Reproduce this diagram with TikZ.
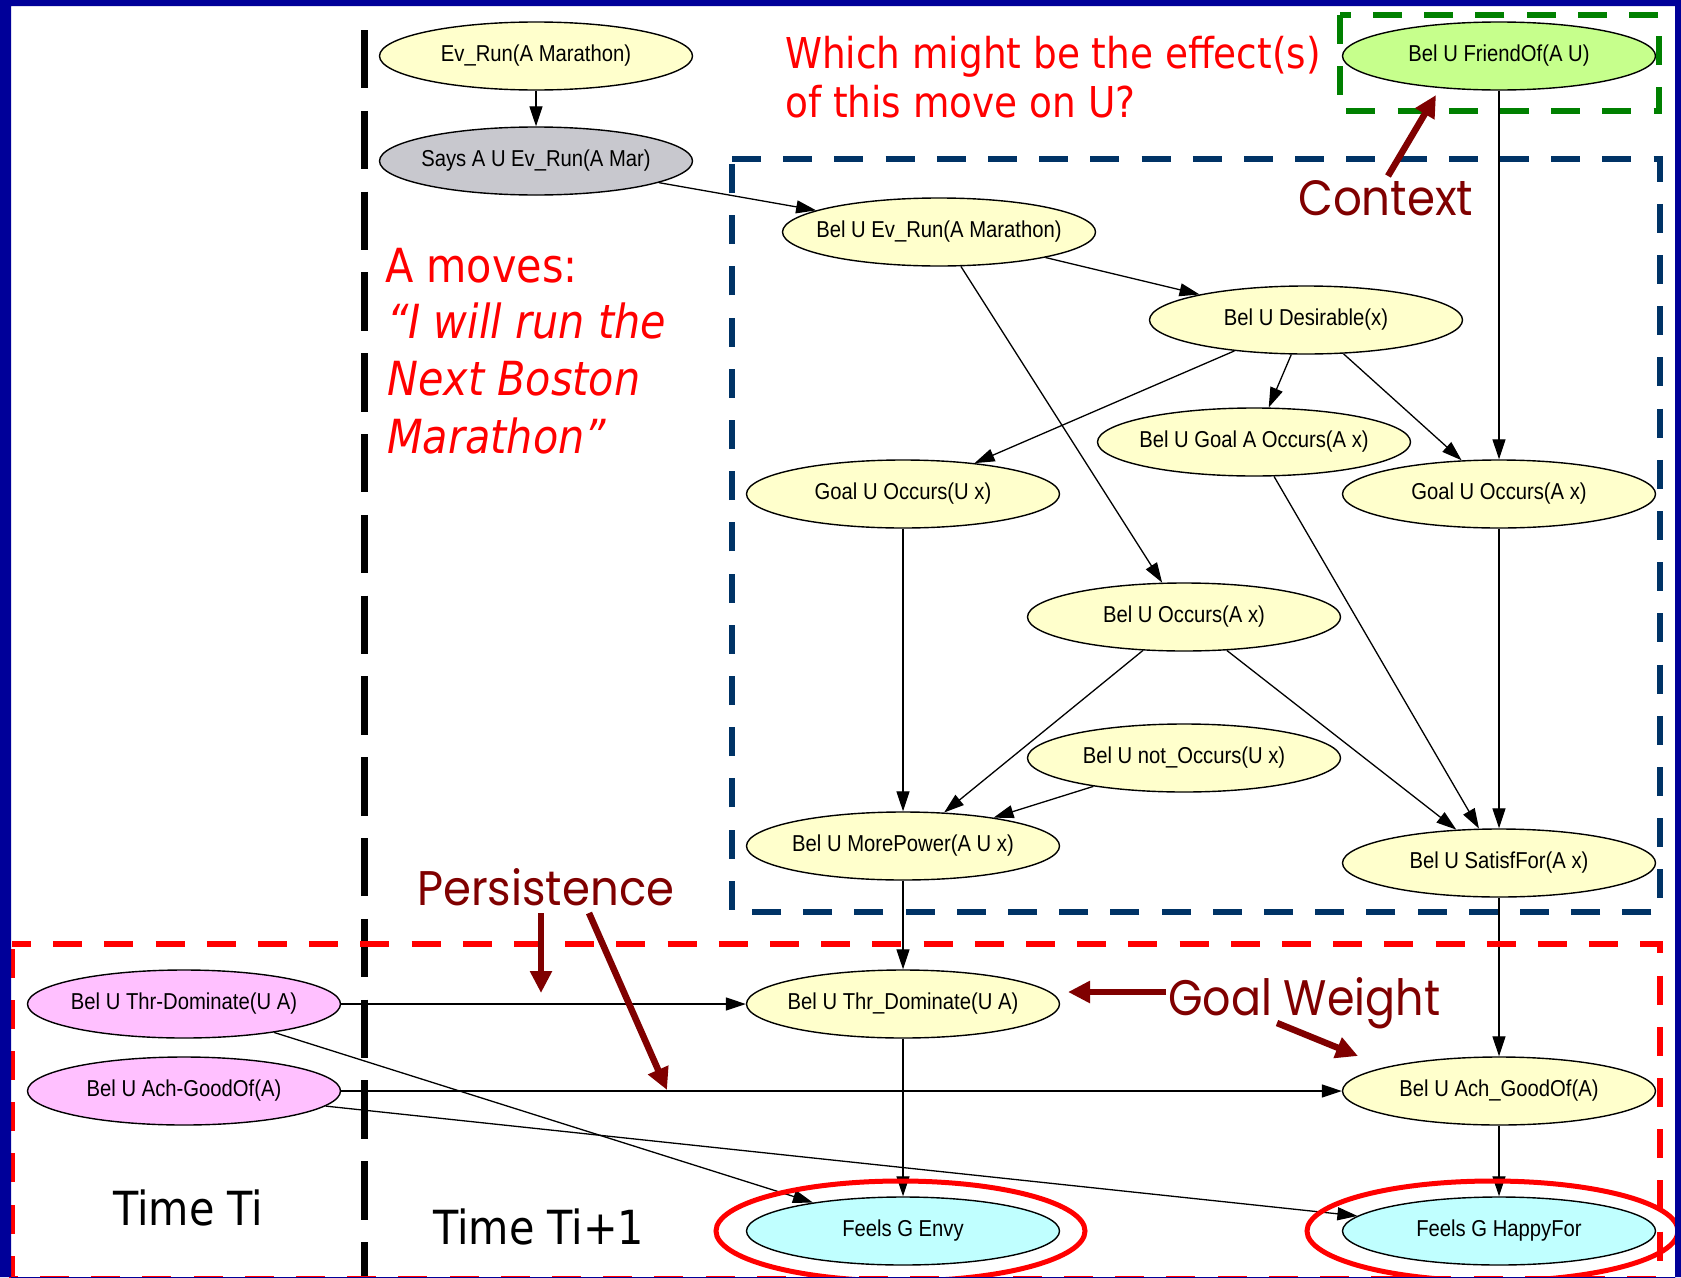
\documentclass[tikz,border=0pt]{standalone}
\usepackage{fontspec}
\usepackage{graphicx}
\setmainfont{Liberation Sans}
\newfontfamily\graphfont[FakeStretch=0.88]{Liberation Sans}
\newfontfamily\slidefont[FakeStretch=0.88]{DejaVu Sans}
\newfontfamily\handfont{Poppins}
\usetikzlibrary{shapes.geometric,arrows.meta}

\definecolor{slideblue}{RGB}{0,0,153}
\definecolor{navybox}{RGB}{0,51,102}
\definecolor{boxgreen}{RGB}{0,128,0}
\definecolor{maroonink}{RGB}{128,0,0}
\definecolor{belyellow}{RGB}{255,255,204}
\definecolor{saysgray}{RGB}{200,200,206}
\definecolor{friendgreen}{RGB}{198,255,140}
\definecolor{prevpink}{RGB}{255,192,255}
\definecolor{feelcyan}{RGB}{192,255,255}

\begin{document}
\begin{tikzpicture}[x=1pt,y=-1pt,
  gnode/.style={ellipse,draw=black,line width=1.4pt,fill=belyellow,
    minimum width=313pt,minimum height=68pt,inner sep=0pt,
    font={\graphfont\fontsize{23}{26}\selectfont},
    execute at begin node={\hbox to 0pt\bgroup\hss},
    execute at end node={\hss\egroup}},
  link/.style={line width=1.3pt,-{Triangle[length=20pt,width=13pt]}},
  regionbox/.style={line width=6.5pt,dash pattern=on 29pt off 22.2pt},
  timeline/.style={line width=7pt,dash pattern=on 58.4pt off 22.4pt},
  ring/.style={draw=red,line width=5pt},
  remark/.style={maroonink,line width=6.5pt,-{Triangle[length=22pt,width=21pt]}},
  slidetext/.style={anchor=base west,inner sep=0pt,red,
    font={\slidefont\fontsize{47}{56}\selectfont}},
  asktext/.style={anchor=base west,inner sep=0pt,red,
    font={\slidefont\fontsize{42.5}{49}\selectfont}},
  timetext/.style={anchor=base west,inner sep=0pt,black,
    font={\slidefont\fontsize{47}{56}\selectfont}},
  handtext/.style={anchor=base west,inner sep=0pt,maroonink}]

\useasboundingbox (0,0) rectangle (1681,1277);
\fill[white] (0,0) rectangle (1681,1277);

% ---- belief network ----
\node[gnode] (ev) at (536,56) {Ev\_Run(A Marathon)};
\node[gnode,fill=saysgray] (says) at (536,161) {Says A U Ev\_Run(A Mar)};
\node[gnode,fill=friendgreen] (friend) at (1499,56) {Bel U FriendOf(A U)};
\node[gnode] (belev) at (939,232) {Bel U Ev\_Run(A Marathon)};
\node[gnode] (desir) at (1306,320) {Bel U Desirable(x)};
\node[gnode] (goalA) at (1254,442) {Bel U Goal A Occurs(A x)};
\node[gnode] (goalUx) at (903,494) {Goal U Occurs(U x)};
\node[gnode] (goalAx) at (1499,494) {Goal U Occurs(A x)};
\node[gnode] (occ) at (1184,617) {Bel U Occurs(A x)};
\node[gnode] (notocc) at (1184,758) {Bel U not\_Occurs(U x)};
\node[gnode] (morep) at (903,846) {Bel U MorePower(A U x)};
\node[gnode] (satis) at (1499,863) {Bel U SatisfFor(A x)};
\node[gnode] (thrd) at (903,1004) {Bel U Thr\_Dominate(U A)};
\node[gnode] (achg) at (1499,1091) {Bel U Ach\_GoodOf(A)};
\node[gnode,fill=feelcyan] (envy) at (903,1231) {Feels G Envy};
\node[gnode,fill=feelcyan] (happy) at (1499,1231) {Feels G HappyFor};
\node[gnode,fill=prevpink] (pthr) at (184,1004) {Bel U Thr-Dominate(U A)};
\node[gnode,fill=prevpink] (pach) at (184,1091) {Bel U Ach-GoodOf(A)};

\draw[link] (ev) -- (says);
\draw[link] (says) -- (belev);
\draw[link] (belev) -- (desir);
\draw[link] (belev) -- (occ);
\draw[link] (desir) -- (goalUx);
\draw[link] (desir) -- (goalA);
\draw[link] (desir) -- (goalAx);
\draw[link] (friend) -- (goalAx);
\draw[link] (goalUx) -- (morep);
\draw[link] (occ) -- (morep);
\draw[link] (notocc) -- (morep);
\draw[link] (occ) -- (satis);
\draw[link] (goalA) -- (satis);
\draw[link] (goalAx) -- (satis);
\draw[link] (morep) -- (thrd);
\draw[link] (satis) -- (achg);
\draw[link] (pthr) -- (thrd);
\draw[link] (pach) -- (achg);
\draw[link] (pthr) -- (envy);
\draw[link] (pach) -- (happy);
\draw[link] (thrd) -- (envy);
\draw[link] (achg) -- (happy);

% ---- grouping frames ----
\draw[timeline,black] (364.5,30) -- (364.5,1277);
\draw[regionbox,navybox] (732,159) -- (1660,159) -- (1660,912) -- (732,912) -- cycle;
\draw[regionbox,boxgreen] (1340,15) -- (1340,111) -- (1659,111) -- (1659,15) -- cycle;
\draw[regionbox,red,dash phase=10pt] (12,944) -- (1660,944) -- (1660,1279) -- (12,1279) -- cycle;

% ---- emotions of interest ----
\draw[ring] ([xshift=-2.5pt]envy.center) ellipse [x radius=184.5pt,y radius=50pt];
\draw[ring] ([xshift=-6.5pt]happy.center) ellipse [x radius=185.5pt,y radius=50pt];

% ---- slide text ----
\node[asktext] (ask1) at (785,68) {Which might be the effect(s)};
\node[asktext] (ask2) at (785,117) {of this move on U?};
\node[slidetext] (mv1) at (385,282) {A moves:};
\node[slidetext] (mv2) at (387,338) {\itshape “I will run the};
\node[slidetext] (mv3) at (387,395) {\itshape Next Boston};
\node[slidetext] (mv4) at (387,453) {\itshape Marathon”};
\node[timetext] (ti) at (113,1225) {Time Ti};
\node[timetext] (ti1) at (433,1244) {Time Ti+1};

% ---- hand-written call-outs ----
\node[handtext] (ctx) at (1298,215) {\resizebox{175pt}{35pt}{\handfont Context}};
\coordinate (ctxtail) at (1388,176);
\coordinate (ctxtip) at (1436,95);
\draw[remark] (ctxtail) -- (ctxtip);

\node[handtext] (pers) at (417,905) {\resizebox{257pt}{37pt}{\handfont Persistence}};
\coordinate (pa1) at (541,913);
\coordinate (pa1tip) at (541,993);
\coordinate (pa2) at (589,913);
\coordinate (pa2tip) at (667,1090);
\draw[remark] (pa1) -- (pa1tip);
\draw[remark] (pa2) -- (pa2tip);

\node[handtext] (gw) at (1168,1015) {\resizebox{272pt}{38pt}{\handfont Goal Weight}};
\coordinate (gw1) at (1166,992);
\coordinate (gw1tip) at (1068,992);
\coordinate (gw2) at (1277,1023);
\coordinate (gw2tip) at (1358,1056);
\draw[remark] (gw1) -- (gw1tip);
\draw[remark] (gw2) -- (gw2tip);

% ---- slide border ----
\fill[slideblue,even odd rule] (0,0) rectangle (1681,1277) (11,6) rectangle (1675,1300);
\end{tikzpicture}
\end{document}
